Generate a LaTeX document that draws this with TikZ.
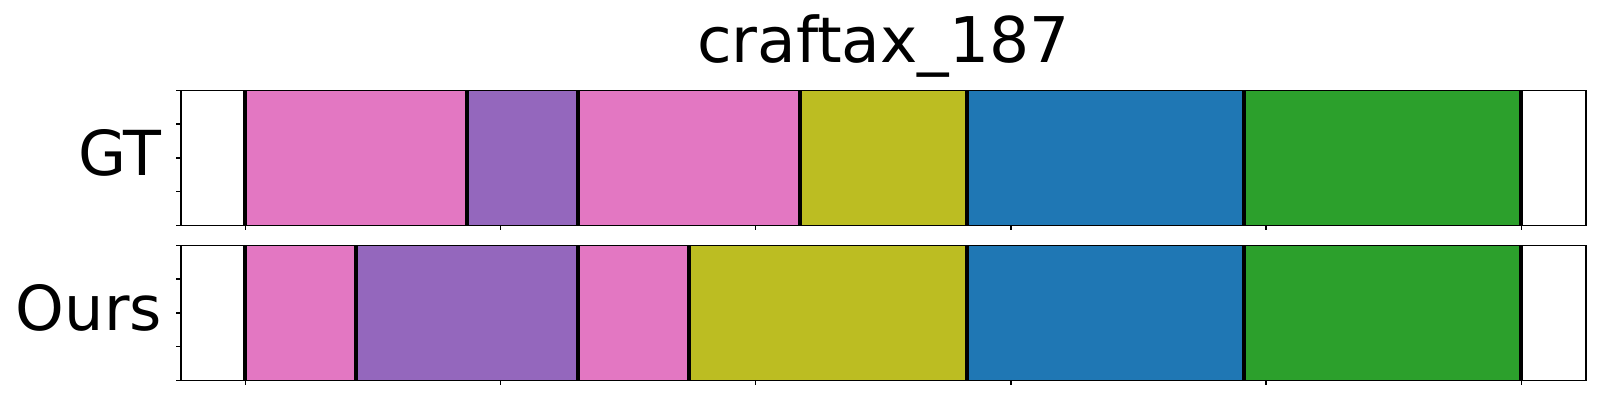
\documentclass[tikz,border=0pt]{standalone}
\usepackage{fontspec}
\setmainfont{DejaVu Sans}
\definecolor{tpink}{HTML}{E377C2}
\definecolor{tpurple}{HTML}{9467BD}
\definecolor{tolive}{HTML}{BCBD22}
\definecolor{tblue}{HTML}{1F77B4}
\definecolor{tgreen}{HTML}{2CA02C}
\begin{document}
\begin{tikzpicture}[x=1pt,y=-1pt,
  spine/.style={draw=black,line width=1.6pt},
  tickline/.style={draw=black,line width=1.4pt},
  bound/.style={draw=black,line width=4pt},
  rowlabel/.style={anchor=base east,inner sep=0pt,font=\fontsize{62}{62}\selectfont},
  titlelabel/.style={anchor=base,inner sep=0pt,font=\fontsize{63}{63}\selectfont}]
\useasboundingbox[fill=white] (0,0) rectangle (1600,400);
% title and labels
\node[titlelabel] (title) at (883.3,62.5) {craftax\_187};
\node[rowlabel] (gtlabel) at (162,175) {GT};
\node[rowlabel] (ourslabel) at (162,330) {Ours};
% GT segments
\fill[tpink]   (245.3,90.3) rectangle (467.2,225.3);
\fill[tpurple] (467.2,90.3) rectangle (578.2,225.3);
\fill[tpink]   (578.2,90.3) rectangle (800.1,225.3);
\fill[tolive]  (800.1,90.3) rectangle (966.5,225.3);
\fill[tblue]   (966.5,90.3) rectangle (1243.9,225.3);
\fill[tgreen]  (1243.9,90.3) rectangle (1521.3,225.3);
\foreach \b in {245.3,467.2,578.2,800.1,966.5,1243.9,1521.3}
  \draw[bound] (\b,90.3) -- (\b,225.3);
% Ours segments
\fill[tpink]   (245.3,245.3) rectangle (356.3,380.3);
\fill[tpurple] (356.3,245.3) rectangle (578.2,380.3);
\fill[tpink]   (578.2,245.3) rectangle (689.1,380.3);
\fill[tolive]  (689.1,245.3) rectangle (966.5,380.3);
\fill[tblue]   (966.5,245.3) rectangle (1243.9,380.3);
\fill[tgreen]  (1243.9,245.3) rectangle (1521.3,380.3);
\foreach \b in {245.3,356.3,578.2,689.1,966.5,1243.9,1521.3}
  \draw[bound] (\b,245.3) -- (\b,380.3);
% spines
\draw[spine] (181,90.3) rectangle (1585.7,225.3);
\draw[spine] (181,245.3) rectangle (1585.7,380.3);
% ticks
\foreach \t in {0,1,2,3,4} {
  \draw[tickline] (176,90.3+33.75*\t) -- (181,90.3+33.75*\t);
  \draw[tickline] (176,245.3+33.75*\t) -- (181,245.3+33.75*\t);
}
\foreach \t in {0,1,2,3,4,5} {
  \draw[tickline] (245.3+255.2*\t,225.3) -- (245.3+255.2*\t,230.3);
  \draw[tickline] (245.3+255.2*\t,380.3) -- (245.3+255.2*\t,385.3);
}
\end{tikzpicture}
\end{document}
